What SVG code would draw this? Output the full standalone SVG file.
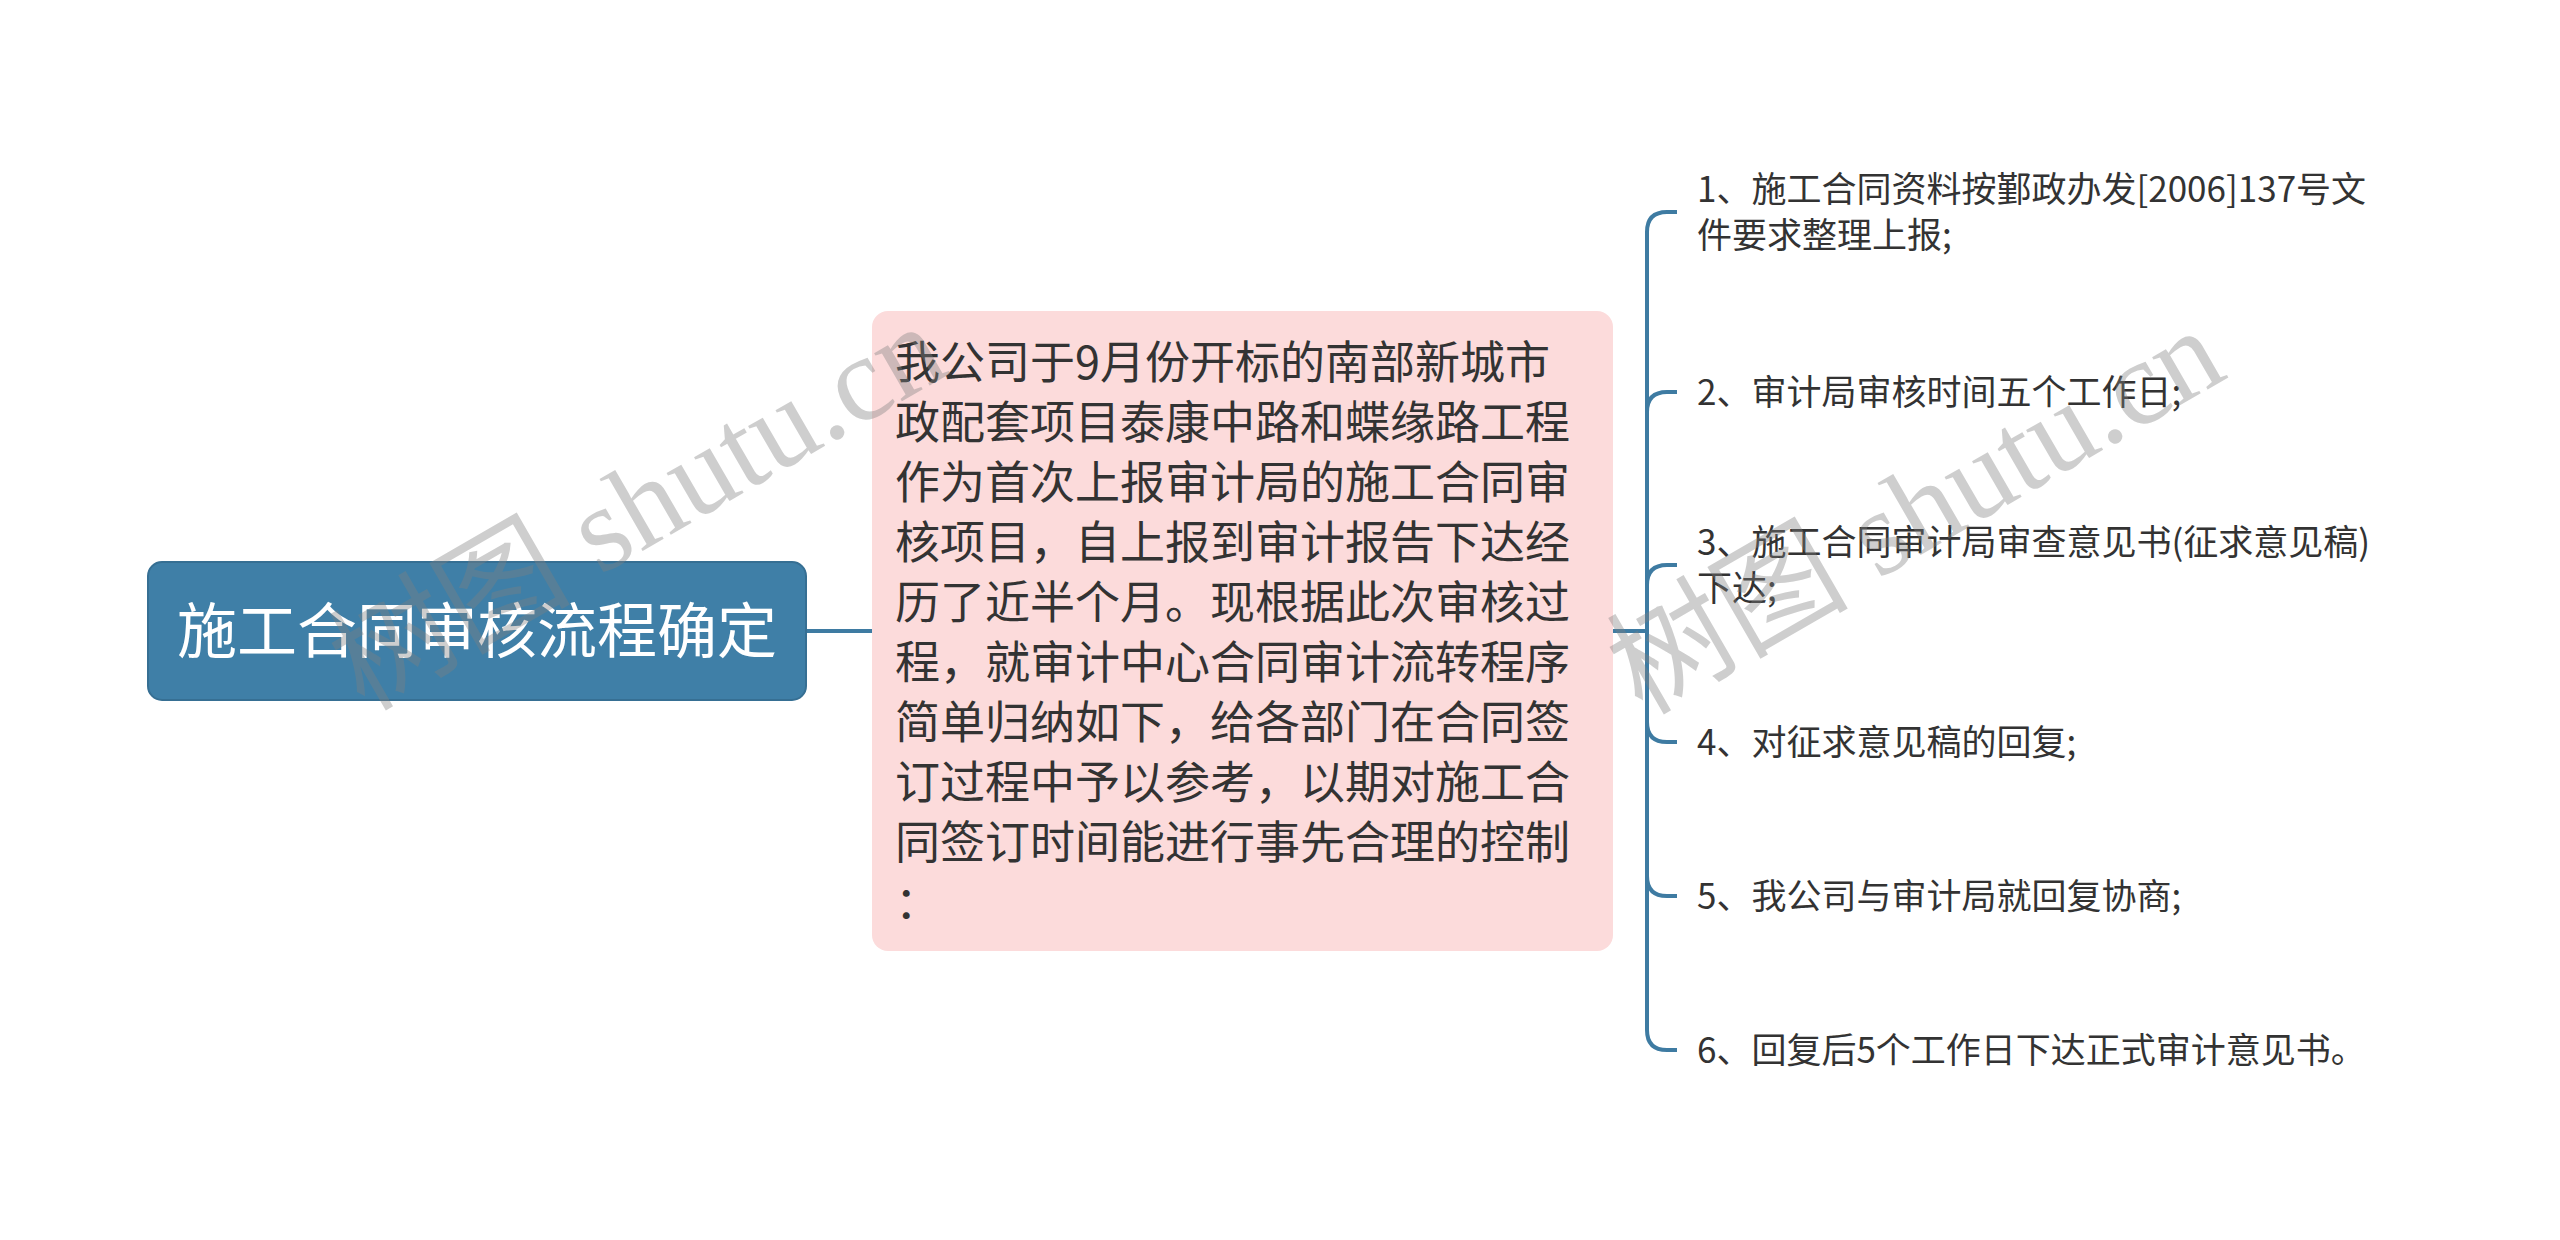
<svg xmlns="http://www.w3.org/2000/svg" width="2560" height="1240" viewBox="0 0 2560 1240">
<style>
.cjk{font-family:"Noto Sans CJK SC","Noto Sans",sans-serif;}
.root-t{font-size:60px;fill:#ffffff;}
.mid-t{font-size:45px;fill:#333333;}
.item-t{font-size:35px;fill:#333333;}
.conn{fill:none;stroke:#3e7ba2;stroke-width:4;stroke-linecap:butt;}
.wm{font-family:"Liberation Serif","Noto Sans CJK SC",serif;font-size:121px;fill:#808080;opacity:0.38;}
</style>
<rect width="2560" height="1240" fill="#ffffff"/>
<g id="connectors">
  <path class="conn" d="M806 631 L872 631"/>
  <path class="conn" d="M1613 631 L1647 631"/>
  <path class="conn" d="M1677 212 L1667 212 Q1647 212 1647 232 L1647 1030 Q1647 1050 1667 1050 L1677 1050"/>
  <path class="conn" d="M1647 412 Q1647 392 1667 392 L1677 392"/>
  <path class="conn" d="M1647 585 Q1647 565 1667 565 L1677 565"/>
  <path class="conn" d="M1647 722 Q1647 742 1667 742 L1677 742"/>
  <path class="conn" d="M1647 876 Q1647 896 1667 896 L1677 896"/>
</g>
<g id="root">
  <rect x="148" y="562" width="658" height="138" rx="14" fill="#3f7fa7" stroke="#366f93" stroke-width="2"/>
  <text class="cjk root-t" x="477" y="653" text-anchor="middle">施工合同审核流程确定</text>
</g>
<g id="detail">
  <rect x="872" y="311" width="741" height="640" rx="16" fill="#fcdbdb"/>
  <text class="cjk mid-t">
    <tspan x="895" y="379">我公司于9月份开标的南部新城市</tspan>
    <tspan x="895" y="439">政配套项目泰康中路和蝶缘路工程</tspan>
    <tspan x="895" y="499">作为首次上报审计局的施工合同审</tspan>
    <tspan x="895" y="559">核项目，自上报到审计报告下达经</tspan>
    <tspan x="895" y="619">历了近半个月。现根据此次审核过</tspan>
    <tspan x="895" y="679">程，就审计中心合同审计流转程序</tspan>
    <tspan x="895" y="739">简单归纳如下，给各部门在合同签</tspan>
    <tspan x="895" y="799">订过程中予以参考，以期对施工合</tspan>
    <tspan x="895" y="859">同签订时间能进行事先合理的控制</tspan>
    <tspan x="895" y="919">：</tspan>
  </text>
</g>
<g id="item1">
  <text class="cjk item-t"><tspan x="1697" y="202">1、施工合同资料按鄞政办发[2006]137号文</tspan><tspan x="1697" y="248">件要求整理上报;</tspan></text>
</g>
<g id="item2">
  <text class="cjk item-t" x="1697" y="405">2、审计局审核时间五个工作日;</text>
</g>
<g id="item3">
  <text class="cjk item-t"><tspan x="1697" y="555">3、施工合同审计局审查意见书(征求意见稿)</tspan><tspan x="1697" y="601">下达;</tspan></text>
</g>
<g id="item4">
  <text class="cjk item-t" x="1697" y="755">4、对征求意见稿的回复;</text>
</g>
<g id="item5">
  <text class="cjk item-t" x="1697" y="909">5、我公司与审计局就回复协商;</text>
</g>
<g id="item6">
  <text class="cjk item-t" x="1697" y="1063">6、回复后5个工作日下达正式审计意见书。</text>
</g>
<g id="watermarks">
  <text class="wm" transform="translate(364 712) rotate(-30)">树图 shutu.cn</text>
  <text class="wm" transform="translate(1642 716) rotate(-30)">树图 shutu.cn</text>
</g>
</svg>
